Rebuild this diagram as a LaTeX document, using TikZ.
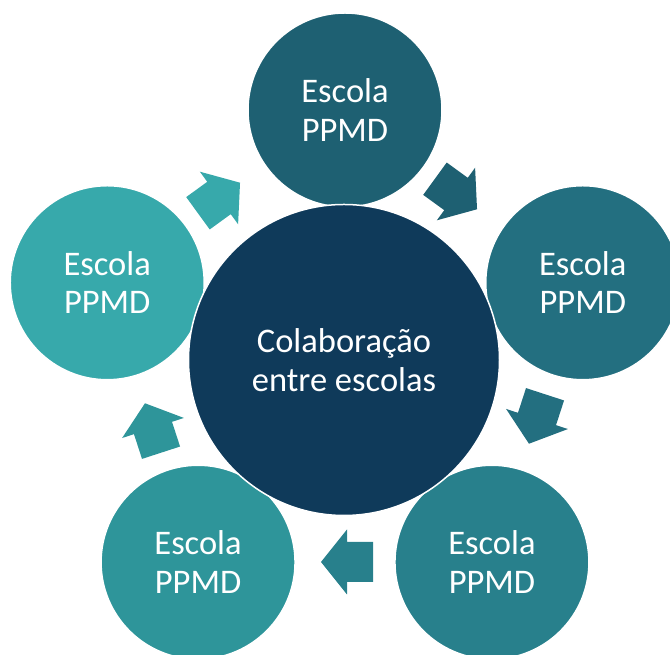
\documentclass[tikz,border=0pt]{standalone}
\usepackage{fontspec}
\setmainfont{Carlito}
\usetikzlibrary{calc}
\definecolor{cHub}{HTML}{0F3A5A}
\definecolor{cTop}{HTML}{1E6072}
\definecolor{cRight}{HTML}{236F80}
\definecolor{cBR}{HTML}{28808C}
\definecolor{cBL}{HTML}{2E959A}
\definecolor{cLeft}{HTML}{37A9AB}
\begin{document}
\begin{tikzpicture}[x=1pt,y=1pt,
  school/.style={circle, draw=white, line width=1.5pt, minimum size=194pt, inner sep=0pt,
    text=white, align=center, font=\fontsize{34.5}{38.5}\selectfont},
  hub/.style={school, minimum size=311pt},
  blockarrow/.pic={\fill (-26,-20) -- (0,-20) -- (0,-32.5) -- (26,0) -- (0,32.5) -- (0,20) -- (-26,20) -- cycle;}
]
\useasboundingbox (0,0) rectangle (670,655);
\clip (0,0) rectangle (670,655);
\coordinate (C) at (345,295);
\node[school, fill=cTop]   (s1) at ($(C)+(90:250)$)   {Escola\\PPMD};
\node[school, fill=cRight] (s2) at ($(C)+(18:250)$)   {Escola\\PPMD};
\node[school, fill=cBR]    (s3) at ($(C)+(-54:250)$)  {Escola\\PPMD};
\node[school, fill=cBL]    (s4) at ($(C)+(-126:250)$) {Escola\\PPMD};
\node[school, fill=cLeft]  (s5) at ($(C)+(162:250)$)  {Escola\\PPMD};
\node[hub, fill=cHub] (hub) at (344,295) {Colabora\c{c}\~ao\\entre escolas};
\coordinate (a1) at (456,461);
\coordinate (a2) at (537,236);
\coordinate (a3) at (347,93);
\coordinate (a4) at (153,227);
\coordinate (a5) at (219,457);
\pic[fill=cTop, rotate=-36] at (a1) {blockarrow};
\pic[fill=cRight, rotate=-108] at (a2) {blockarrow};
\pic[fill=cBR, rotate=180] at (a3) {blockarrow};
\pic[fill=cBL, rotate=108] at (a4) {blockarrow};
\pic[fill=cLeft, rotate=36] at (a5) {blockarrow};
\end{tikzpicture}
\end{document}
